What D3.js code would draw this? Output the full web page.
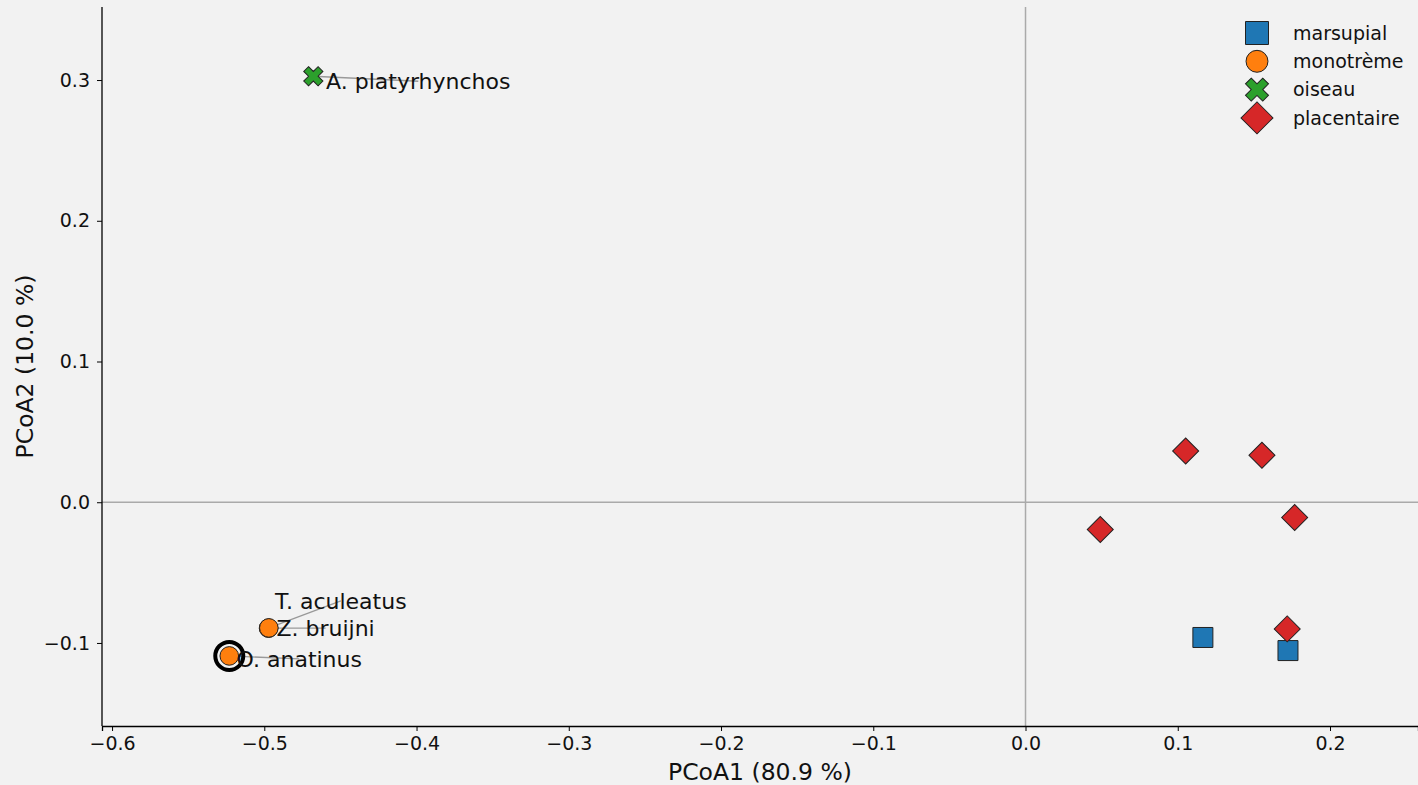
<!DOCTYPE html>
<html>
<head>
<meta charset="utf-8">
<script src="https://cdn.jsdelivr.net/npm/d3@7"></script>
<style>
  body { margin: 0; background: #f2f2f2; }
  svg { display: block; font-family: "DejaVu Sans", sans-serif; }
</style>
</head>
<body>
<svg id="chart"></svg>
<script>
// groups and their colours
var categories = ["marsupial", "monotrème", "oiseau", "placentaire"];
var colors = ["#1f77b4", "#ff7f0e", "#2ca02c", "#d62728"];

// PCoA coordinates, one entry per species
var names = ["", "", "O. anatinus", "Z. bruijni", "T. aculeatus", "A. platyrhynchos", "", "", "", "", ""];
var groups = ["marsupial", "marsupial", "monotrème", "monotrème", "monotrème", "oiseau",
              "placentaire", "placentaire", "placentaire", "placentaire", "placentaire"];
var pc1 = [0.1165, 0.1724, -0.5230, -0.4972, -0.4970, -0.4678, 0.1052, 0.1553, 0.0491, 0.1768, 0.1719];
var pc2 = [-0.0961, -0.1054, -0.1092, -0.0895, -0.0893, 0.3027, 0.0364, 0.0334, -0.0194, -0.0109, -0.0900];

var xTicks = [-0.6, -0.5, -0.4, -0.3, -0.2, -0.1, 0.0, 0.1, 0.2];
var yTicks = [-0.1, 0.0, 0.1, 0.2, 0.3];
var highlighted = "O. anatinus";

// label placement, pixel offset of the label centre from its point
var labelOffset = {
    "A. platyrhynchos": [105, 5],
    "T. aculeatus": [72, -27],
    "Z. bruijni": [57, 0],
    "O. anatinus": [70, 3]
};

var width = 1418, height = 785;
var margin = {left: 102, right: 0, top: 7, bottom: 59};

var svg = d3.select("#chart").attr("width", width).attr("height", height);
svg.append("rect").attr("width", width).attr("height", height).attr("fill", "#f2f2f2");

var x = d3.scaleLinear().domain([-0.6066, 0.2578]).range([margin.left, width - margin.right]);
var y = d3.scaleLinear().domain([-0.1590, 0.3519]).range([height - margin.bottom, margin.top]);

var points = pc1.map(function(d, i) {
    return {x: pc1[i], y: pc2[i], name: names[i], group: groups[i]};
});

var color = d3.scaleOrdinal().domain(categories).range(colors);

// marker shapes, matplotlib style
var shape = {
    "marsupial": {type: d3.symbolSquare, size: 400, rot: 0},
    "monotrème": {type: d3.symbolCircle, size: 272, rot: 0},
    "oiseau": {type: d3.symbolCross, size: 230, rot: 45},
    "placentaire": {type: d3.symbolSquare, size: 338, rot: 45}
};
var legendScale = {"marsupial": 1.15, "monotrème": 1.18, "oiseau": 1.2, "placentaire": 1.23};

// zero lines
svg.append("line")
    .attr("x1", x(0)).attr("x2", x(0))
    .attr("y1", margin.top).attr("y2", height - margin.bottom)
    .attr("stroke", "#aaaaaa").attr("stroke-width", 1.5);
svg.append("line")
    .attr("x1", margin.left).attr("x2", width)
    .attr("y1", y(0)).attr("y2", y(0))
    .attr("stroke", "#aaaaaa").attr("stroke-width", 1.5);

// axes
var fmt = function(d) { return d3.format(".1f")(d).replace("-", "\u2212"); };
var xAxis = svg.append("g")
    .attr("transform", "translate(0," + (height - margin.bottom) + ")")
    .call(d3.axisBottom(x).tickValues(xTicks).tickSizeOuter(0).tickSize(5).tickPadding(6).tickFormat(fmt));
var yAxis = svg.append("g")
    .attr("transform", "translate(" + margin.left + ",0)")
    .call(d3.axisLeft(y).tickValues(yTicks).tickSizeOuter(0).tickSize(5).tickPadding(7).tickFormat(fmt));

[xAxis, yAxis].forEach(function(g) {
    g.attr("font-family", "DejaVu Sans").attr("font-size", 19);
    g.select(".domain").attr("stroke", "#000").attr("stroke-width", 1.3);
    g.selectAll(".tick line").attr("stroke", "#000").attr("stroke-width", 1);
    g.selectAll(".tick text").attr("fill", "#111");
});
// y axis spine goes all the way up to the top of the plot
yAxis.select(".domain").attr("d", "M0," + margin.top + "V" + (height - margin.bottom));

svg.append("text")
    .attr("x", (margin.left + width) / 2).attr("y", 780)
    .attr("text-anchor", "middle").attr("font-size", 23.5).attr("fill", "#111")
    .text("PCoA1 (80.9 %)");
svg.append("text")
    .attr("transform", "translate(33," + ((margin.top + height - margin.bottom) / 2) + ") rotate(-90)")
    .attr("text-anchor", "middle").attr("font-size", 23.5).attr("fill", "#111")
    .text("PCoA2 (10.0 %)");

// leader lines for the labels
var labelled = points.filter(function(d) { return d.name; });
svg.selectAll(".leader").data(labelled).enter().append("line")
    .attr("class", "leader")
    .attr("x1", function(d) { return x(d.x); })
    .attr("y1", function(d) { return y(d.y); })
    .attr("x2", function(d) { return x(d.x) + labelOffset[d.name][0]; })
    .attr("y2", function(d) { return y(d.y) + labelOffset[d.name][1]; })
    .attr("stroke", "#999").attr("stroke-width", 1.3);

// ring around the highlighted species
points.filter(function(d) { return d.name === highlighted; }).forEach(function(d) {
    svg.append("circle")
        .attr("cx", x(d.x)).attr("cy", y(d.y)).attr("r", 14)
        .attr("fill", "none").attr("stroke", "#000").attr("stroke-width", 4);
});

// markers
svg.selectAll(".pt").data(points).enter().append("path")
    .attr("class", "pt")
    .attr("d", function(d) { return d3.symbol().type(shape[d.group].type).size(shape[d.group].size)(); })
    .attr("transform", function(d) {
        return "translate(" + x(d.x) + "," + y(d.y) + ") rotate(" + shape[d.group].rot + ")";
    })
    .attr("fill", function(d) { return color(d.group); })
    .attr("stroke", "#222").attr("stroke-width", 1);

// labels
svg.selectAll(".lbl").data(labelled).enter().append("text")
    .attr("class", "lbl")
    .attr("x", function(d) { return x(d.x) + labelOffset[d.name][0]; })
    .attr("y", function(d) { return y(d.y) + labelOffset[d.name][1]; })
    .attr("text-anchor", "middle").attr("dy", "0.35em")
    .attr("font-size", 22).attr("fill", "#111")
    .text(function(d) { return d.name; });

// legend
var legend = svg.selectAll(".leg").data(categories).enter().append("g")
    .attr("class", "leg")
    .attr("transform", function(d, i) { return "translate(1257," + (33 + i * 28.3) + ")"; });
legend.append("path")
    .attr("d", function(d) {
        var s = legendScale[d];
        return d3.symbol().type(shape[d].type).size(shape[d].size * s * s)();
    })
    .attr("transform", function(d) { return "rotate(" + shape[d].rot + ")"; })
    .attr("fill", function(d) { return color(d); })
    .attr("stroke", "#222").attr("stroke-width", 1);
legend.append("text")
    .attr("x", 36).attr("dy", "0.35em")
    .attr("font-size", 19).attr("fill", "#111")
    .text(function(d) { return d; });
</script>
</body>
</html>
